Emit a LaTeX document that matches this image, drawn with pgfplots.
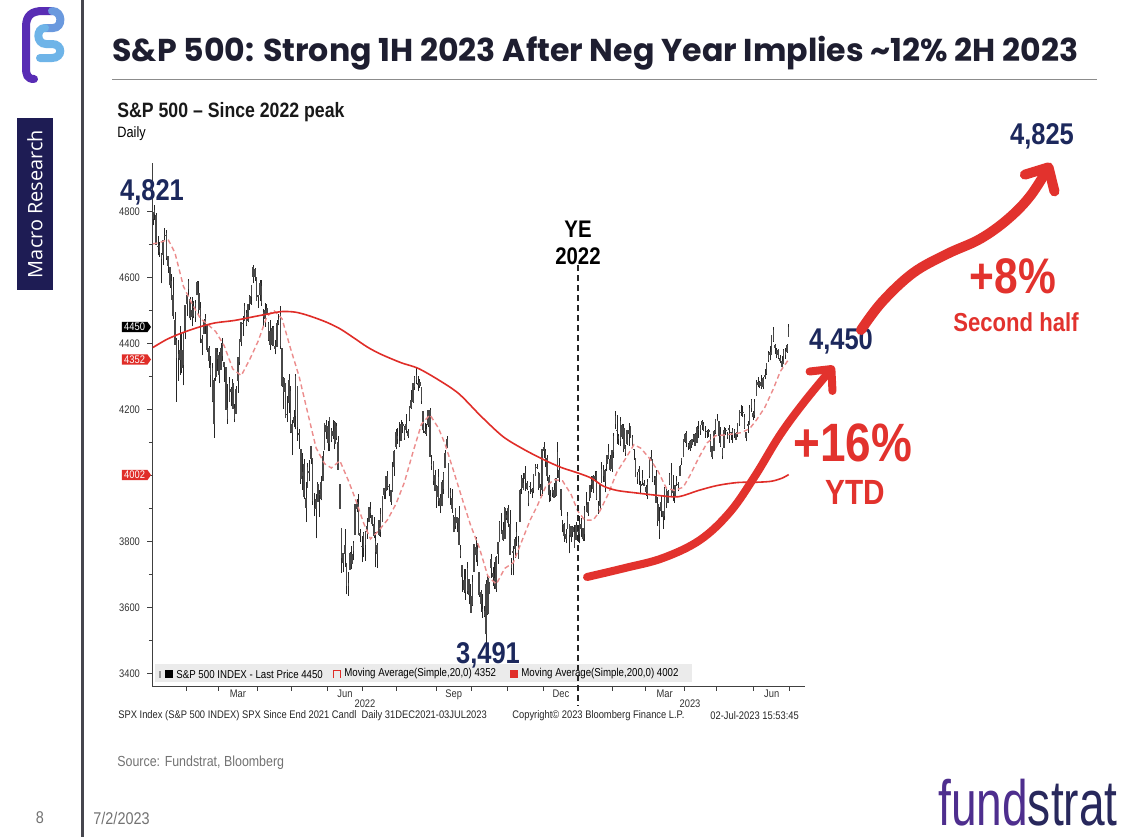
\documentclass[border=0pt]{standalone}
\usepackage{pgfplots}
\pgfplotsset{compat=1.18}
\usepackage{pgfplotstable}
\usepackage{graphicx}
\usepackage{fontspec}
\setmainfont{Liberation Sans}
\newfontfamily\narrow{Liberation Sans}[FakeStretch=0.85]
\newfontfamily\pop{Poppins}
\newfontfamily\osans{Open Sans}
\usetikzlibrary{arrows.meta,shapes.symbols}

\definecolor{navytxt}{RGB}{28,40,92}
\definecolor{annored}{RGB}{226,50,45}
\definecolor{ma200c}{RGB}{224,45,40}
\definecolor{ma20c}{RGB}{236,140,140}
\definecolor{sidenavy}{RGB}{30,28,84}
\definecolor{titlecol}{RGB}{30,30,48}
\definecolor{fundpurple}{RGB}{78,46,142}
\definecolor{stratnavy}{RGB}{40,40,92}
\definecolor{logopurple}{RGB}{88,44,180}
\definecolor{logoblue}{RGB}{110,180,232}
\definecolor{sidegray}{RGB}{70,70,78}

\pgfplotstableread{
o h l c
4778 4797 4758 4797
4804 4819 4775 4794
4787 4797 4700 4701
4693 4726 4667 4696
4698 4707 4663 4677
4656 4674 4582 4670
4670 4714 4638 4713
4729 4749 4713 4726
4733 4745 4653 4659
4637 4666 4614 4663
4632 4633 4568 4577
4588 4612 4533 4533
4547 4602 4475 4483
4471 4495 4396 4398
4357 4418 4223 4410
4367 4411 4288 4356
4381 4453 4305 4350
4381 4429 4310 4327
4337 4432 4273 4432
4432 4516 4415 4516
4520 4547 4484 4547
4566 4596 4544 4589
4535 4542 4471 4477
4482 4540 4452 4501
4505 4528 4476 4484
4480 4531 4466 4522
4547 4591 4547 4587
4553 4589 4491 4504
4507 4527 4402 4419
4413 4427 4365 4402
4429 4473 4429 4471
4455 4490 4430 4475
4457 4457 4374 4380
4385 4394 4327 4349
4333 4363 4268 4305
4325 4341 4222 4226
4156 4295 4115 4289
4299 4385 4287 4385
4355 4388 4316 4374
4364 4375 4279 4306
4322 4401 4320 4387
4401 4416 4346 4363
4343 4343 4284 4329
4327 4327 4199 4201
4203 4276 4157 4171
4224 4300 4224 4278
4253 4268 4210 4260
4280 4292 4202 4204
4203 4218 4162 4173
4188 4272 4188 4262
4288 4358 4251 4358
4345 4413 4335 4412
4407 4465 4392 4463
4462 4482 4424 4461
4469 4523 4469 4512
4493 4501 4452 4456
4470 4521 4465 4520
4522 4546 4502 4543
4541 4576 4518 4576
4603 4637 4582 4632
4624 4628 4589 4602
4600 4603 4530 4530
4541 4548 4507 4546
4547 4594 4528 4583
4573 4593 4515 4525
4494 4504 4450 4481
4475 4522 4450 4500
4507 4521 4487 4488
4462 4464 4408 4413
4437 4471 4382 4397
4398 4453 4392 4447
4449 4453 4392 4393
4385 4411 4367 4392
4390 4471 4390 4462
4473 4489 4455 4459
4489 4513 4385 4394
4385 4385 4268 4272
4255 4299 4201 4296
4278 4278 4175 4175
4187 4241 4162 4184
4222 4308 4189 4288
4254 4270 4129 4132
4130 4169 4062 4155
4159 4200 4147 4175
4182 4308 4140 4300
4271 4271 4106 4147
4128 4141 4082 4123
4081 4082 3975 3991
4010 4068 3956 4001
4035 4050 3928 3935
3904 3982 3859 3930
3963 4039 3963 4024
4013 4047 3983 4008
4052 4090 4034 4089
4052 4052 3912 3924
3900 3946 3877 3901
3927 3943 3810 3901
3920 3982 3920 3974
3942 3955 3875 3941
3929 3999 3925 3979
3985 4076 3984 4058
4078 4160 4077 4158
4151 4169 4111 4132
4149 4166 4074 4101
4096 4178 4075 4177
4138 4143 4101 4109
4134 4168 4110 4121
4097 4165 4080 4161
4148 4160 4107 4116
4102 4120 4017 4018
3975 3975 3900 3901
3839 3839 3705 3750
3765 3765 3707 3735
3764 3837 3723 3790
3733 3733 3640 3667
3665 3707 3636 3675
3716 3767 3716 3765
3733 3786 3716 3760
3774 3802 3743 3796
3821 3913 3821 3912
3920 3928 3889 3900
3913 3945 3820 3822
3825 3838 3799 3819
3785 3818 3738 3785
3782 3829 3753 3825
3792 3832 3742 3831
3831 3870 3809 3845
3859 3905 3859 3903
3888 3919 3871 3899
3880 3880 3847 3854
3852 3874 3810 3819
3770 3830 3722 3802
3763 3796 3721 3790
3820 3864 3818 3863
3883 3903 3814 3831
3861 3937 3861 3937
3941 3960 3929 3960
3955 3999 3928 3999
3998 4013 3955 3962
3966 3976 3937 3967
3954 3954 3911 3921
3951 4040 3951 4024
4026 4079 3999 4072
4087 4141 4080 4130
4113 4144 4097 4119
4105 4163 4086 4091
4107 4167 4107 4155
4154 4162 4128 4152
4115 4151 4108 4145
4155 4187 4128 4140
4134 4141 4113 4122
4170 4212 4164 4210
4228 4258 4201 4207
4225 4280 4220 4280
4269 4301 4260 4297
4290 4325 4277 4305
4281 4302 4255 4274
4273 4293 4265 4284
4267 4267 4218 4228
4195 4195 4129 4138
4133 4159 4125 4129
4127 4156 4121 4141
4153 4200 4147 4199
4198 4204 4057 4058
4034 4062 4017 4031
4042 4044 3971 3986
4000 4016 3955 3955
3937 3970 3903 3967
3995 4019 3907 3924
3930 3943 3886 3908
3910 3987 3907 3980
3959 4010 3944 4006
4023 4077 4023 4067
4084 4120 4084 4110
4037 4037 3932 3933
3940 3961 3912 3946
3932 3959 3888 3901
3830 3880 3829 3873
3849 3900 3839 3900
3875 3876 3828 3856
3872 3907 3789 3790
3773 3790 3749 3758
3727 3727 3648 3693
3682 3716 3644 3655
3687 3717 3624 3647
3651 3737 3641 3719
3687 3687 3610 3640
3633 3672 3585 3586
3610 3698 3605 3678
3710 3791 3710 3791
3761 3813 3738 3783
3777 3797 3726 3745
3707 3707 3633 3640
3645 3653 3588 3612
3596 3640 3569 3589
3590 3606 3571 3577
3520 3685 3492 3670
3690 3696 3579 3583
3642 3679 3642 3678
3746 3762 3690 3720
3703 3722 3667 3695
3689 3737 3656 3666
3657 3757 3648 3753
3764 3799 3733 3797
3799 3862 3799 3859
3825 3887 3825 3831
3834 3860 3803 3807
3809 3906 3809 3901
3881 3893 3864 3872
3901 3912 3843 3856
3853 3895 3759 3760
3733 3750 3699 3720
3767 3786 3698 3771
3780 3814 3751 3807
3818 3860 3786 3828
3798 3818 3749 3749
3860 3958 3860 3956
3964 4001 3944 3993
3977 4009 3956 3957
4007 4029 3953 3992
3977 3984 3955 3959
3919 3954 3907 3947
3966 3980 3945 3965
3957 3962 3933 3950
3957 4004 3946 4004
4000 4034 3999 4027
4024 4034 4020 4026
4006 4012 3956 3964
3965 3976 3937 3958
3957 4080 3939 4080
4087 4101 4053 4077
4041 4080 4026 4072
4053 4062 3984 3999
3996 4002 3919 3941
3937 3957 3922 3934
3947 3966 3935 3964
3954 3977 3933 3934
3940 3991 3935 3991
4069 4101 3994 4020
4016 4054 3982 3995
3958 3958 3879 3896
3853 3864 3828 3852
3853 3855 3800 3818
3810 3838 3795 3822
3839 3889 3839 3878
3853 3853 3764 3822
3816 3845 3798 3845
3844 3846 3814 3829
3829 3849 3783 3783
3805 3858 3805 3849
3830 3840 3800 3840
3853 3878 3795 3824
3840 3873 3815 3853
3840 3840 3803 3808
3823 3907 3802 3895
3910 3951 3890 3892
3888 3920 3877 3919
3932 3970 3924 3970
3977 3998 3950 3983
3960 4003 3947 3999
3999 4015 3984 3991
4010 4014 3926 3929
3911 3923 3885 3899
3910 3973 3898 3973
3979 4040 3978 4020
4001 4033 3982 4017
3982 4019 3949 4016
4036 4061 4013 4060
4053 4095 4049 4071
4049 4063 4015 4018
4020 4077 4011 4077
4071 4130 4054 4119
4158 4195 4141 4180
4136 4183 4097 4136
4120 4126 4093 4111
4105 4176 4089 4164
4153 4157 4111 4118
4144 4156 4070 4082
4070 4094 4060 4090
4097 4138 4092 4137
4127 4160 4091 4136
4116 4148 4114 4148
4115 4124 4088 4090
4078 4081 4048 4079
4053 4053 3995 3997
4000 4010 3975 3991
4018 4029 3971 4012
3974 3984 3943 3970
3993 4018 3973 3982
3978 3987 3969 3970
3964 3972 3939 3951
3938 3990 3928 3981
3999 4049 3992 4046
4055 4079 4044 4048
4049 4050 3980 3986
3988 4000 3970 3992
3998 4018 3917 3918
3912 3934 3847 3862
3835 3906 3809 3856
3894 3937 3874 3919
3876 3894 3838 3892
3878 3964 3864 3960
3959 3959 3901 3917
3917 3956 3917 3952
3976 4009 3972 4003
4002 4039 3937 3937
3959 4002 3922 3949
3939 3973 3917 3971
3983 3999 3969 3978
3974 3980 3952 3971
3999 4031 3999 4028
4046 4052 4032 4051
4057 4110 4056 4109
4103 4128 4100 4125
4128 4134 4086 4101
4095 4100 4077 4090
4082 4108 4076 4105
4095 4110 4084 4109
4121 4125 4102 4109
4126 4128 4090 4092
4101 4150 4100 4146
4141 4164 4114 4138
4137 4152 4124 4151
4164 4169 4139 4155
4140 4162 4134 4155
4130 4149 4114 4130
4132 4139 4114 4134
4133 4142 4117 4137
4126 4126 4072 4072
4088 4089 4049 4056
4075 4139 4074 4135
4129 4170 4127 4169
4166 4186 4164 4168
4165 4165 4098 4120
4123 4148 4088 4091
4083 4083 4049 4061
4084 4147 4084 4136
4136 4143 4123 4138
4125 4131 4110 4119
4143 4154 4099 4138
4132 4132 4109 4131
4138 4143 4099 4124
4127 4142 4114 4136
4128 4131 4109 4110
4123 4159 4117 4159
4157 4199 4150 4198
4191 4213 4181 4192
4190 4210 4179 4193
4176 4186 4142 4146
4132 4133 4104 4115
4156 4165 4130 4151
4155 4213 4155 4205
4227 4231 4193 4206
4188 4196 4168 4180
4184 4232 4174 4221
4242 4290 4242 4282
4282 4299 4267 4274
4271 4288 4264 4284
4285 4304 4263 4268
4268 4298 4262 4294
4305 4322 4292 4299
4308 4340 4305 4339
4352 4376 4344 4369
4367 4392 4349 4373
4366 4427 4366 4426
4440 4449 4405 4410
4396 4400 4367 4389
4381 4388 4356 4366
4357 4382 4352 4382
4355 4366 4341 4348
4345 4363 4328 4329
4338 4384 4338 4378
4367 4388 4353 4377
4375 4398 4372 4396
4422 4458 4422 4450
}\spx

\pgfplotstableread{
x v
0 4702
4 4706
9 4715
13 4675
18 4573
23 4521
28 4476
33 4455
37 4436
42 4393
47 4323
52 4303
57 4352
62 4408
67 4481
71 4501
76 4475
81 4385
86 4301
91 4192
96 4084
101 4036
105 4023
110 4045
115 3985
119 3931
124 3856
128 3808
133 3834
138 3866
143 3914
148 3980
153 4071
158 4156
163 4184
168 4144
172 4094
177 4012
182 3929
187 3848
192 3782
197 3696
202 3671
207 3719
212 3736
217 3801
222 3866
226 3907
231 3966
236 3988
241 3984
246 3943
250 3892
254 3865
259 3865
263 3893
268 3946
273 4011
278 4051
283 4094
287 4083
292 4053
297 4015
302 3962
307 3955
312 3965
316 4001
321 4053
326 4099
331 4121
336 4123
341 4126
346 4130
351 4142
355 4168
360 4207
365 4263
369 4315
374 4352
}\mafast

\pgfplotstableread{
x v
0 4388
8 4412
16 4430
26 4448
36 4462
48 4470
58 4480
68 4490
76 4497
84 4495
92 4484
102 4465
110 4445
118 4418
126 4390
134 4368
146 4342
156 4325
168 4290
180 4248
193 4180
206 4118
218 4080
230 4048
240 4025
250 4008
258 3992
265 3968
273 3955
285 3947
297 3940
309 3936
321 3955
332 3970
344 3979
356 3980
364 3983
370 3992
374 4003
}\maslow

\begin{document}
\begin{tikzpicture}
\begin{scope}[x=0.5pt,y=-0.5pt]
\path[use as bounding box] (0,0) rectangle (1132,837);
\fill[white] (0,0) rectangle (1132,837);
% side bar
\draw[line width=1.5pt, sidegray] (82,0) -- (82,837);
\fill[sidenavy] (17,118) rectangle (53,290);
\node[rotate=90, text=white, inner sep=0pt] at (35,204) {\resizebox{74pt}{!}{\osans\fontsize{10}{11}\selectfont Macro Research}};
% logo
\draw[logopurple, line width=4pt, line cap=round] (34,79) .. controls (27,79) and (26,74) .. (26,68) -- (26,27) .. controls (26,15) and (32,11) .. (43,11) -- (52,11);
\draw[logoblue!80!logopurple, line width=4pt, line cap=round] (52,11) .. controls (63,11) and (63,28) .. (53,28) -- (45,28);
\draw[logoblue, line width=4pt, line cap=round] (45,28) .. controls (36,28) and (36,44) .. (46,44) -- (52,44) .. controls (63,44) and (63,58) .. (52,58) -- (40,58);
% title
\node[anchor=west, text=titlecol, inner sep=0pt] at (112,53) {\resizebox{483pt}{!}{\pop\bfseries\fontsize{18}{20}\selectfont S\&P 500: Strong 1H 2023 After Neg Year Implies \textasciitilde12\% 2H 2023}};
\draw[black!45, line width=0.5pt] (112,79) -- (1097,79);
\node[anchor=west, inner sep=0pt, text=black!90, font=\narrow\bfseries\fontsize{10.4}{12}\selectfont] at (117,112) {S\&P 500 \textendash\ Since 2022 peak};
\node[anchor=west, inner sep=0pt, font=\narrow\fontsize{7.5}{9}\selectfont] at (117,134) {Daily};
\end{scope}

\begin{axis}[
  at={(76pt,-343pt)}, anchor=south west,
  scale only axis, width=326.5pt, height=261.5pt,
  xmin=-0.5, xmax=383.6, ymin=3362.5, ymax=4947,
  axis x line*=bottom, axis y line*=left,
  axis line style={-, black!75, line width=0.5pt},
  tick align=outside,
  ytick={3400,3600,3800,4200,4400,4600,4800},
  extra y ticks={4000}, extra y tick labels={},
  minor ytick={3500,3700,...,4700},
  xtick={19.5,38.5,61.5,81.5,102.5,123.5,143.5,166.5,187.5,208.5,229.5,250.5,270.5,289.5,312.5,331.5,353.5,374.5},
  xticklabels={},
  extra x ticks={50,113,177,240,301,364},
  extra x tick labels={Mar,Jun,Sep,Dec,Mar,Jun},
  extra x tick style={major tick length=0pt},
  major tick length=2.3pt, minor tick length=1.6pt,
  tick style={black!75, line width=0.4pt},
  ticklabel style={font=\narrow\fontsize{5.5}{6}\selectfont, text=black!80},
  /pgf/number format/assume math mode=true,
  /pgf/number format/1000 sep={},
  yticklabel style={xshift=-0.2pt},
  xticklabel style={yshift=1.6pt},
]
% wicks: vertical segments from low to high
\addplot[black!85, line width=0.35pt, mark=none, -, forget plot,
  quiver={u=0, v=\thisrow{h}-\thisrow{l}, every arrow/.style={-}}]
  table[x expr=\coordindex, y=l] {\spx};
% bodies: vertical segments from open to close
\addplot[black!72, line width=0.78pt, mark=none, -, forget plot,
  quiver={u=0, v=abs(\thisrow{o}-\thisrow{c})+2, every arrow/.style={-}}]
  table[x expr=\coordindex, y expr={min(\thisrow{o},\thisrow{c})-1}] {\spx};
\addplot[ma20c, line width=0.7pt, dash pattern=on 2.4pt off 1.6pt] table[x=x, y=v] {\mafast};
\addplot[ma200c, line width=0.8pt, smooth] table[x=x, y=v] {\maslow};
\end{axis}

\begin{scope}[x=0.5pt,y=-0.5pt]
% y-axis tags
\node[signal, signal to=east, signal pointer angle=110, fill=black, text=white, font=\narrow\fontsize{5.5}{6}\selectfont, inner xsep=1.2pt, inner ysep=0.6pt, minimum height=5pt, anchor=east] at (151.5,327) {4450};
\node[signal, signal to=east, signal pointer angle=110, fill=ma200c, text=white, font=\narrow\fontsize{5.5}{6}\selectfont, inner xsep=1.2pt, inner ysep=0.6pt, minimum height=5pt, anchor=east] at (151.5,359.5) {4352};
\node[signal, signal to=east, signal pointer angle=110, fill=ma200c, text=white, font=\narrow\fontsize{5.5}{6}\selectfont, inner xsep=1.2pt, inner ysep=0.6pt, minimum height=5pt, anchor=east] at (151.5,475) {4002};
% legend strip
\fill[black!8] (155,664) rectangle (692,682);
\fill[black!40] (159,671) rectangle (161,678);
\fill[black] (165,670) rectangle (173,678);
\node[anchor=west, inner sep=0pt, font=\narrow\fontsize{5.7}{6}\selectfont] at (176,674) {S\&P 500 INDEX - Last Price 4450};
\draw[ma200c, line width=0.5pt] (333,678) -- (333,670) -- (340,670) -- (340,678);
\node[anchor=west, inner sep=0pt, font=\narrow\fontsize{5.7}{6}\selectfont] at (344,674) {Moving Average(Simple,20,0) 4352};
\fill[ma200c] (510,670) rectangle (518,678);
\node[anchor=west, inner sep=0pt, font=\narrow\fontsize{5.7}{6}\selectfont] at (521,674) {Moving Average(Simple,200,0) 4002};
% year labels and footnote
\node[font=\narrow\fontsize{5.5}{6}\selectfont, text=black!80] at (365,704) {2022};
\node[font=\narrow\fontsize{5.5}{6}\selectfont, text=black!80] at (690,704) {2023};
\node[anchor=west, inner sep=0pt, font=\narrow\fontsize{5.5}{6}\selectfont, text=black!85] at (118,716) {SPX Index (S\&P 500 INDEX) SPX Since End 2021 Candl\ \ Daily 31DEC2021-03JUL2023};
\node[anchor=west, inner sep=0pt, font=\narrow\fontsize{5.5}{6}\selectfont, text=black!85] at (512,716) {Copyright\textcopyright\ 2023 Bloomberg Finance L.P.};
\node[anchor=west, inner sep=0pt, font=\narrow\fontsize{5.5}{6}\selectfont, text=black!85] at (710,716) {02-Jul-2023 15:53:45};
% YE 2022 line
\draw[black!85, line width=0.55pt, dash pattern=on 3pt off 2pt] (578,265) -- (578,706);
\node[font=\narrow\bfseries\fontsize{12}{13}\selectfont] at (578,229) {YE};
\node[font=\narrow\bfseries\fontsize{12}{13}\selectfont] at (578,256) {2022};
% value labels
\node[text=navytxt, font=\narrow\bfseries\fontsize{15}{16}\selectfont] at (152,192) {4,821};
\node[text=navytxt, font=\narrow\bfseries\fontsize{15}{16}\selectfont] at (488,655) {3,491};
\node[text=navytxt, font=\narrow\bfseries\fontsize{15}{16}\selectfont] at (841,341) {4,450};
\node[text=navytxt, font=\narrow\bfseries\fontsize{15}{16}\selectfont] at (1042,136) {4,825};
% red arrows
\draw[annored, line width=4pt, line cap=round, -{Straight Barb[length=8pt,width=15pt,round]}]
  plot[smooth, tension=0.6] coordinates {(587,577) (625,568) (663,558) (700,540) (730,512) (755,476) (780,435) (805,401) (834,366)};
\draw[annored, line width=5pt, line cap=round, -{Straight Barb[length=9pt,width=17pt,round]}]
  plot[smooth, tension=0.6] coordinates {(861,330) (882,302) (913,273) (947,254) (980,239) (1008,219) (1031,195) (1051,163)};
\node[text=annored, font=\narrow\bfseries\fontsize{25}{26}\selectfont] at (1013,276) {+8\%};
\node[text=annored, font=\narrow\bfseries\fontsize{13}{14}\selectfont] at (1016,322) {Second half};
\node[text=annored, font=\narrow\bfseries\fontsize{27}{28}\selectfont] at (853,443) {+16\%};
\node[text=annored, font=\narrow\bfseries\fontsize{17.5}{18}\selectfont] at (855,492) {YTD};
% footer
\node[anchor=west, inner sep=0pt, text=black!55, font=\narrow\fontsize{7.3}{8}\selectfont] at (117,763) {Source: Fundstrat, Bloomberg};
\node[text=black!55, font=\narrow\fontsize{8.5}{9}\selectfont] at (40,818) {8};
\node[anchor=west, inner sep=0pt, text=black!55, font=\narrow\fontsize{8.5}{9}\selectfont] at (93,818) {7/2/2023};
\node[anchor=south east, inner sep=0pt] at (1118,827) {\scalebox{0.72}[1]{\fontsize{32}{32}\selectfont\color{fundpurple}fund\color{stratnavy}strat}};
\end{scope}
\end{tikzpicture}
\end{document}
